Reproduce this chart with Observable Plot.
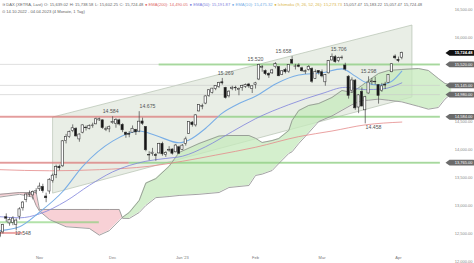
<!DOCTYPE html>
<html><head><meta charset="utf-8">
<script src="https://cdn.jsdelivr.net/npm/d3@7"></script>
<script src="https://cdn.jsdelivr.net/npm/@observablehq/plot@0.6"></script>
<style>
body{margin:0;background:#fff;font-family:"Liberation Sans",Arial,sans-serif;}
#wrap{position:relative;width:474px;height:263px;overflow:hidden;background:#fff}
#hdr{position:absolute;left:2px;top:1px;font-size:4.15px;line-height:7px;color:#666;white-space:nowrap;z-index:2}
#hdr span{margin-right:1.6px}
#chart{position:absolute;left:0;top:0}
</style></head><body>
<div id="wrap"><div id="chart"></div><div id="hdr"></div></div>
<script>
// ---------- data ----------
const open = [12520,12520,12790,12680,12690,12650,12800,12950,13100,13190,13180,13250,
13290,13330,13160,13250,13440,13540,13690,13700,14150,14220,14330,14370,14180,14300,14390,14370,14420,14450,14520,14520,14360,14360,
14470,14460,14520,14440,14300,14280,14300,14350,14320,14500,14400,13900,13920,13900,13930,14100,13900,13980,14000,13950,14040,
13990,14100,14280,14480,14430,14680,14760,14820,14960,15010,15080,15120,15200,15100,14950,15080,15100,15060,15100,15120,15160,15080,
15150,15250,15460,15400,15350,15360,15470,15470,15330,15420,15390,15600,15480,15500,15450,15380,15420,15440,15260,15400,
15380,15200,15360,15590,15650,15580,15640,15500,15300,15050,15230,14750,15030,14700,15000,15200,15200,15150,15050,15160,15190,15380,15660,
15600,15639.02];
const high = [12671,12665,12850,12780,12800,12760,12960,13070,13210,13260,13260,13300,
13400,13380,13220,13480,13560,13720,13720,14160,14270,14330,14440,14390,14280,14440,14420,14440,14470,14560,14560,14530,14400,14420,
14584,14550,14540,14460,14310,14320,14420,14360,14675,14560,14410,13960,14020,13930,14110,14130,13960,14050,14010,14090,14060,
14090,14220,14500,14500,14620,14800,14810,14960,15070,15090,15140,15200,15269,15110,15050,15130,15130,15100,15150,15170,15180,15140,
15200,15520,15500,15420,15370,15430,15550,15480,15410,15450,15510,15658,15520,15530,15470,15420,15500,15460,15420,15410,
15420,15340,15590,15706,15680,15650,15670,15540,15320,15280,15250,14980,15100,14950,15298,15270,15290,15160,15180,15200,15340,15530,15690,
15650,15738.58];
const low = [12415,12490,12700,12630,12640,12548,12740,12900,13050,13150,13100,13200,
13250,13220,13050,13200,13400,13480,13620,13680,14100,14200,14300,14220,14130,14280,14330,14350,14380,14440,14500,14360,14320,14300,
14450,14380,14420,14300,14200,14210,14290,14250,14300,14430,13960,13800,13880,13790,13920,13880,13860,13950,13900,13940,13910,
13980,14060,14270,14400,14400,14670,14710,14800,14930,14990,15050,15090,15150,14900,14920,15050,15040,14960,15040,15090,15090,15000,
15080,15230,15380,15320,15270,15340,15440,15300,15320,15350,15360,15520,15420,15460,15380,15340,15400,15180,15250,15330,
15280,15130,15350,15580,15540,15550,15600,15400,14900,15000,14700,14640,14760,14458,14990,15150,15150,14810,15020,15070,15180,15370,15600,
15550,15602.25];
const close = [12438,12649,12765,12741,12767,12731,12931,13053,13196,13211,13243,13253,
13338,13257,13130,13460,13533,13688,13666,14146,14224,14313,14379,14234,14267,14431,14380,14422,14428,14540,14541,14383,14355,14397,
14490,14529,14447,14343,14261,14264,14370,14306,14497,14460,13987,13893,13943,13885,14098,13914,13940,13995,13925,14071,13924,
14069,14181,14490,14436,14610,14792,14775,14948,15058,15087,15134,15187,15181,14920,15033,15103,15093,15082,15132,15150,15126,15128,
15181,15509,15476,15345,15321,15412,15524,15308,15397,15380,15506,15534,15482,15477,15398,15400,15476,15210,15381,15365,
15305,15328,15578,15654,15559,15631,15633,15428,14959,15233,14735,14967,14768,14933,15195,15216,15210,14957,15128,15142,15329,15523,15629,
15581,15724.48];

// moving averages (bar index, value)
const ema200Idx = [0,15,30,45,55,65,77,90,100,110,121];
const ema200Val = [13640,13620,13640,13700,13790,13900,14040,14230,14330,14440,14490];
const ema50Idx = [0,6,12,20,27,34,44,50,55,62,70,77,87,97,104,110,115,121];
const ema50Val = [12800,12780,12850,13080,13360,13600,13790,13840,13880,14050,14320,14550,14800,15000,15110,15070,15080,15190];
const ema20Idx = [0,6,12,19,25,34,42,47,54,57,62,67,72,77,83,90,97,103,107,110,114,118,121];
const ema20Val = [12550,12620,12880,13250,13700,14150,14330,14250,14120,14170,14380,14650,14820,14950,15170,15330,15370,15440,15310,15200,15150,15220,15400];

// Ichimoku cloud (bar index, span A, span B)
const cloudIdx = [0,6,10,11,12,15,20,27,30,33,36,37,39,42,44,47,51,54,60,66,69,75,77,79,82,84,87,88,90,93,96,100,103,106,109,111,114,117,121,126,129,132,134,136];
const spanA = [13150,13200,13150,13000,12900,12750,12620,12590,12470,12550,12730,12790,12875,13090,13400,13480,13700,13946,14107,14240,14250,14250,14200,14125,14160,14196,14339,14518,14696,14786,14821,14929,15054,15018,15143,15232,15357,15411,15429,15446,15411,15268,15179,15150];
const spanB = [13200,13232,13232,13232,12929,12929,12929,12929,12929,12929,12929,12770,12768,12875,13000,13140,13160,13179,13200,13232,13321,13357,13536,13560,13625,13750,13929,13960,14107,14300,14500,14600,14700,14800,14875,14880,14900,14880,14850,14770,14720,14750,14900,15000];

// trend channel (bar index, lower, upper)
const channelIdx = [16.2, 124.2];
const channelLow = [13214, 14929];
const channelHigh = [14572, 16214];

// horizontal levels
const levelValues = [15520, 15145, 14980, 14584, 13765];
const levelLabels = ["15,520.00","15,145.00","14,980.00","14,584.00","13,765.00"];
const segValue = [15520, 14584, 14584, 13765, 13765, 12700, 12510];
const segFrom  = [48, 0.27, 66, 0.27, 39, 0.27, 0.27];
const segTo    = [132.6, 66, 132.6, 39, 132.6, 30, 7];
const segKind  = ["sup","res","sup","res","sup","sup","res"];

// swing labels
const swingIdx = [7, 33.4, 44.5, 68, 77, 85.4, 102, 111, 112.5];
const swingVal = [12548, 14584, 14675, 15269, 15520, 15658, 15706, 15298, 14458];
const swingText = ["12.548","14.584","14.675","15.269","15.520","15.658","15.706","15.298","14.458"];
const swingSide = ["low","high","high","high","high","high","high","high","low"];

// axes
const yTicks = [12000,12500,13000,13500,14000,14500,15000,15500,16000,16500];
const monthIdx = [12, 34, 55, 77, 97, 120];
const monthText = ["Nov","Dec","Jan '23","Feb","Mar","Apr"];
const lastPrice = 15724.48;

// ---------- build ----------
const bars = close.map((c,i)=>({i, o:open[i], h:high[i], l:low[i], c}));
const cloud = cloudIdx.map((i,k)=>({i, a:spanA[k], b:spanB[k]}));
const channel = channelIdx.map((i,k)=>({i, lo:channelLow[k], hi:channelHigh[k]}));
const e200 = ema200Idx.map((i,k)=>({i, v:ema200Val[k]}));
const e50 = ema50Idx.map((i,k)=>({i, v:ema50Val[k]}));
const e20 = ema20Idx.map((i,k)=>({i, v:ema20Val[k]}));
const segs = segValue.map((v,k)=>({v, from:segFrom[k], to:segTo[k], kind:segKind[k]}));
const swings = swingIdx.map((i,k)=>({i, v:swingVal[k], t:swingText[k], side:swingSide[k]}));
const months = monthIdx.map((i,k)=>({i, t:monthText[k]}));
const levels = levelValues.map((v,k)=>({v, t:levelLabels[k]}));
const fmt = d3.format(",.2f");

const boxSymbol = {draw(ctx){ // label box with arrow on the left, anchored at right edge
  const w=25, h=2.9, r=1.2;
  ctx.moveTo(-w-4,0); ctx.lineTo(-w,-h); ctx.lineTo(-r,-h);
  ctx.quadraticCurveTo(0,-h,0,-h+r); ctx.lineTo(0,h-r);
  ctx.quadraticCurveTo(0,h,-r,h); ctx.lineTo(-w,h); ctx.closePath();
}};

const chart = Plot.plot({
  width: 474, height: 263,
  marginLeft: 0, marginRight: 0, marginTop: 9, marginBottom: 2,
  x: {type:"linear", domain:[0.27, 142.87], axis:null},
  y: {domain:[12000,16500], axis:null},
  style: {background:"transparent", fontFamily:"Liberation Sans, Arial, sans-serif", overflow:"visible"},
  marks: [
    Plot.areaY(channel, {x:"i", y1:"lo", y2:"hi", fill:"#dfe7dc", fillOpacity:0.7, stroke:"#b4c2b0", strokeWidth:0.7, curve:"linear"}),
    Plot.areaY(cloud, {x:"i", y1:"b", y2:d=>Math.max(d.a,d.b), fill:"#c6eabc", fillOpacity:0.75}),
    Plot.areaY(cloud, {x:"i", y1:"a", y2:d=>Math.max(d.a,d.b), fill:"#f7c9cf", fillOpacity:0.85}),
    Plot.ruleY(levels, {y:"v", x1:0.27, x2:132.6, stroke:"#c9c9c9", strokeWidth:0.6}),
    Plot.ruleY(segs.filter(d=>d.kind==="res"), {y:"v", x1:"from", x2:"to", stroke:"#e06a6a", strokeWidth:2, strokeOpacity:0.6}),
    Plot.ruleY(segs.filter(d=>d.kind==="sup"), {y:"v", x1:"from", x2:"to", stroke:"#7fcf70", strokeWidth:2, strokeOpacity:0.6}),
    Plot.line(cloud, {x:"i", y:"a", stroke:"#8c8c8c", strokeWidth:0.8}),
    Plot.line(cloud, {x:"i", y:"b", stroke:"#8c8c8c", strokeWidth:0.8}),
    Plot.line(e200, {x:"i", y:"v", stroke:"#e58a8a", strokeWidth:0.8, curve:"monotone-x"}),
    Plot.line(e50, {x:"i", y:"v", stroke:"#7d82dc", strokeWidth:0.8, curve:"monotone-x"}),
    Plot.line(e20, {x:"i", y:"v", stroke:"#79aee6", strokeWidth:1.1, curve:"monotone-x"}),
    Plot.ruleX(bars, {x:"i", y1:"l", y2:"h", stroke:"#444", strokeWidth:0.7}),
    Plot.rect(bars, {x1:d=>d.i-0.33, x2:d=>d.i+0.33, y1:"o", y2:"c",
      fill:d=>d.c>=d.o?"#ffffff":"#151515", stroke:"#333", strokeWidth:0.6}),
    Plot.text(swings.filter(d=>d.side==="high"), {x:"i", y:"v", text:"t", dy:-5, fill:"#555", fontSize:5.2}),
    Plot.text(swings.filter(d=>d.side==="low"), {x:"i", y:"v", text:"t", dy:3, fill:"#555", fontSize:5.2}),
    Plot.text(yTicks, {y:d=>d, frameAnchor:"right", textAnchor:"end", dx:-2, text:d=>fmt(d), fill:"#888", fontSize:4}),
    Plot.dot(levels, {y:"v", frameAnchor:"right", symbol:boxSymbol, fill:"#6b6b6b", stroke:"none", r:3}),
    Plot.text(levels, {y:"v", frameAnchor:"right", textAnchor:"end", dx:-2, text:"t", fill:"#fff", fontSize:4}),
    Plot.dot([lastPrice], {y:d=>d, frameAnchor:"right", symbol:boxSymbol, fill:"#111", stroke:"none", r:3}),
    Plot.text([lastPrice], {y:d=>d, frameAnchor:"right", textAnchor:"end", dx:-2, text:d=>fmt(d), fill:"#fff", fontSize:4, fontWeight:"bold"}),
    Plot.text(months, {x:"i", frameAnchor:"bottom", dy:-3, text:"t", fill:"#777", fontSize:4})
  ]
});
document.getElementById("chart").appendChild(chart);

const hdr = document.getElementById("hdr");
hdr.innerHTML =
 '<div><span>≋ DAX (XETRA, Last)</span><span>O: 15,639.02</span><span>H: 15,738.58</span><span>L: 15,602.25</span><span>C: 15,724.48</span>' +
 '<span style="color:#e06a6a">● EMA(200): 14,490.05</span><span style="color:#7d82dc">● EMA(50): 15,191.87</span>' +
 '<span style="color:#79aee6">● EMA(10): 15,475.32</span><span style="color:#d9b64c">● Ichimoku (9, 26, 52, 26): 15,273.73</span>' +
 '<span>15,057.47</span><span>15,183.22</span><span>15,057.47</span><span>15,724.48</span></div>' +
 '<div>⊙ 14.10.2022 - 04.04.2023 (4 Monate, 1 Tag)</div>';
</script>
</body></html>
